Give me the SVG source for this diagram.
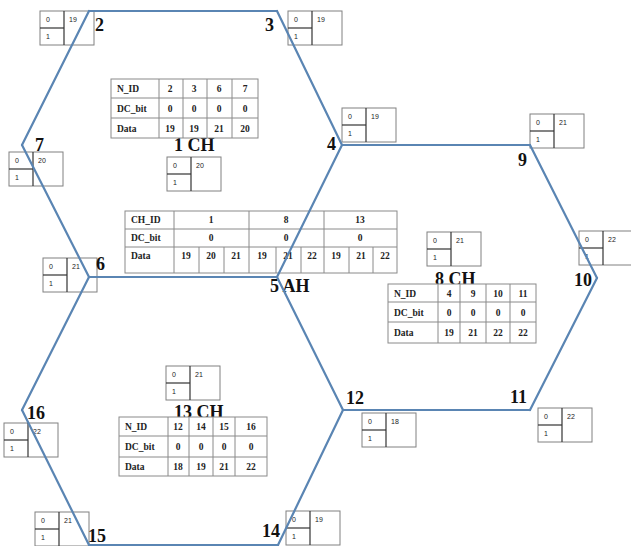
<svg xmlns="http://www.w3.org/2000/svg" xmlns:xlink="http://www.w3.org/1999/xlink" width="631" height="546" viewBox="0 0 631 546">
<style>
.edge{stroke:#5a85b3;stroke-width:2.2;fill:none;stroke-linecap:round}
.bo{fill:#fff;stroke:#808080;stroke-width:1}
.bi{stroke:#333;stroke-width:1.2}
.bt{font-family:"Liberation Sans",Arial,sans-serif;font-size:7px;fill:#222}
.lbl{font-family:"Liberation Serif","Times New Roman",serif;font-weight:bold;font-size:18px;fill:#111}
.tb{fill:#fff;stroke:#8a8a8a;stroke-width:1}
.tl{stroke:#8a8a8a;stroke-width:1}
.tt{font-family:"Liberation Serif","Times New Roman",serif;font-weight:bold;font-size:9.5px;fill:#222}
.tc{text-anchor:middle}
</style>
<defs>
<g id="box">
<rect class="bo" x="0" y="0" width="54" height="34"/>
<line class="bi" x1="24" y1="0" x2="24" y2="34"/>
<line class="bi" x1="0" y1="17" x2="24" y2="17"/>
<text class="bt" x="6" y="11">0</text>
<text class="bt" x="6" y="28">1</text>
</g>
</defs>
<rect width="631" height="546" fill="#fff"/>

<g id="node-2"><use xlink:href="#box" x="40" y="11"/><text class="bt" x="69" y="22">19</text><text class="lbl" x="95" y="31">2</text></g>
<g id="node-3"><use xlink:href="#box" x="288" y="11"/><text class="bt" x="317" y="22">19</text><text class="lbl" x="265" y="31">3</text></g>
<g id="node-4"><use xlink:href="#box" x="342" y="108"/><text class="bt" x="371" y="119">19</text><text class="lbl" x="327" y="150">4</text></g>
<g id="node-7"><use xlink:href="#box" x="9" y="152"/><text class="bt" x="38" y="163">20</text><text class="lbl" x="35" y="151">7</text></g>
<g id="node-6"><use xlink:href="#box" x="43" y="258"/><text class="bt" x="72" y="269">21</text><text class="lbl" x="96" y="270">6</text></g>
<g id="node-9"><use xlink:href="#box" x="530" y="114"/><text class="bt" x="559" y="125">21</text><text class="lbl" x="518" y="166">9</text></g>
<g id="node-10"><use xlink:href="#box" x="579" y="231"/><text class="bt" x="608" y="242">22</text><text class="lbl" x="574" y="286">10</text></g>
<g id="node-11"><use xlink:href="#box" x="538" y="408"/><text class="bt" x="567" y="419">22</text><text class="lbl" x="510" y="403">11</text></g>
<g id="node-12"><use xlink:href="#box" x="362" y="413"/><text class="bt" x="391" y="424">18</text><text class="lbl" x="346" y="404">12</text></g>
<g id="node-14"><use xlink:href="#box" x="286" y="511"/><text class="bt" x="315" y="522">19</text><text class="lbl" x="262" y="537">14</text></g>
<g id="node-15"><use xlink:href="#box" x="35" y="512"/><text class="bt" x="64" y="523">21</text><text class="lbl" x="88" y="542">15</text></g>
<g id="node-16"><use xlink:href="#box" x="4" y="423"/><text class="bt" x="33" y="434">22</text><text class="lbl" x="27" y="419">16</text></g>

<g id="node-1CH">
<use xlink:href="#box" x="167" y="157"/><text class="bt" x="196" y="168">20</text>
<text class="lbl" x="174" y="151">1 CH</text>
<rect class="tb" x="111" y="79" width="147" height="59"/>
<path class="tl" d="M111 98H258M111 118H258M159 79V138M183 79V138M207 79V138M232 79V138"/>
<text class="tt" x="117" y="92">N_ID</text><text class="tt" x="117" y="112">DC_bit</text><text class="tt" x="117" y="132">Data</text>
<text class="tt tc" x="170" y="92">2</text><text class="tt tc" x="194" y="92">3</text><text class="tt tc" x="219" y="92">6</text><text class="tt tc" x="245" y="92">7</text>
<text class="tt tc" x="170" y="112">0</text><text class="tt tc" x="194" y="112">0</text><text class="tt tc" x="219" y="112">0</text><text class="tt tc" x="245" y="112">0</text>
<text class="tt tc" x="170" y="132">19</text><text class="tt tc" x="194" y="132">19</text><text class="tt tc" x="219" y="132">21</text><text class="tt tc" x="245" y="132">20</text>
</g>

<g id="node-5AH">
<text class="lbl" x="270" y="292">5 AH</text>
<rect class="tb" x="125" y="211" width="272" height="62"/>
<path class="tl" d="M125 229H397M125 247H397M174 211V273M249 211V273M324 211V273M199 247V273M224 247V273M276 247V273M301 247V273M349 247V273M373 247V273"/>
<text class="tt" x="131" y="223">CH_ID</text><text class="tt" x="131" y="241">DC_bit</text><text class="tt" x="131" y="259">Data</text>
<text class="tt tc" x="211" y="223">1</text><text class="tt tc" x="286" y="223">8</text><text class="tt tc" x="360" y="223">13</text>
<text class="tt tc" x="211" y="241">0</text><text class="tt tc" x="286" y="241">0</text><text class="tt tc" x="360" y="241">0</text>
<text class="tt tc" x="186" y="259">19</text><text class="tt tc" x="211" y="259">20</text><text class="tt tc" x="236" y="259">21</text>
<text class="tt tc" x="262" y="259">19</text><text class="tt tc" x="288" y="259">21</text><text class="tt tc" x="312" y="259">22</text>
<text class="tt tc" x="336" y="259">19</text><text class="tt tc" x="361" y="259">21</text><text class="tt tc" x="385" y="259">22</text>
</g>

<g id="node-8CH">
<use xlink:href="#box" x="427" y="232"/><text class="bt" x="456" y="243">21</text>
<text class="lbl" x="435" y="285">8 CH</text>
<rect class="tb" x="388" y="284" width="148" height="59"/>
<path class="tl" d="M388 302H536M388 322H536M438 284V343M460 284V343M486 284V343M510 284V343"/>
<text class="tt" x="394" y="297">N_ID</text><text class="tt" x="394" y="316">DC_bit</text><text class="tt" x="394" y="336">Data</text>
<text class="tt tc" x="449" y="297">4</text><text class="tt tc" x="473" y="297">9</text><text class="tt tc" x="498" y="297">10</text><text class="tt tc" x="523" y="297">11</text>
<text class="tt tc" x="449" y="316">0</text><text class="tt tc" x="473" y="316">0</text><text class="tt tc" x="498" y="316">0</text><text class="tt tc" x="523" y="316">0</text>
<text class="tt tc" x="449" y="336">19</text><text class="tt tc" x="473" y="336">21</text><text class="tt tc" x="498" y="336">22</text><text class="tt tc" x="523" y="336">22</text>
</g>

<g id="node-13CH">
<use xlink:href="#box" x="166" y="366"/><text class="bt" x="195" y="377">21</text>
<text class="lbl" x="174" y="418">13 CH</text>
<rect class="tb" x="119" y="417" width="148" height="59"/>
<path class="tl" d="M119 436H267M119 457H267M168 417V476M189 417V476M213 417V476M235 417V476"/>
<text class="tt" x="125" y="430">N_ID</text><text class="tt" x="125" y="450">DC_bit</text><text class="tt" x="125" y="470">Data</text>
<text class="tt tc" x="178" y="430">12</text><text class="tt tc" x="201" y="430">14</text><text class="tt tc" x="224" y="430">15</text><text class="tt tc" x="251" y="430">16</text>
<text class="tt tc" x="178" y="450">0</text><text class="tt tc" x="201" y="450">0</text><text class="tt tc" x="224" y="450">0</text><text class="tt tc" x="251" y="450">0</text>
<text class="tt tc" x="178" y="470">18</text><text class="tt tc" x="201" y="470">19</text><text class="tt tc" x="224" y="470">21</text><text class="tt tc" x="251" y="470">22</text>
</g>

<g id="connectors">
<line class="edge" x1="89" y1="11" x2="277" y2="11"/>
<line class="edge" x1="277" y1="11" x2="342" y2="145"/>
<line class="edge" x1="342" y1="145" x2="277" y2="277"/>
<line class="edge" x1="277" y1="277" x2="89" y2="277"/>
<line class="edge" x1="89" y1="277" x2="22" y2="145"/>
<line class="edge" x1="22" y1="145" x2="89" y2="11"/>
<line class="edge" x1="342" y1="145" x2="530" y2="145"/>
<line class="edge" x1="530" y1="145" x2="597" y2="278"/>
<line class="edge" x1="597" y1="278" x2="530" y2="410"/>
<line class="edge" x1="530" y1="410" x2="343" y2="410"/>
<line class="edge" x1="343" y1="410" x2="277" y2="277"/>
<line class="edge" x1="343" y1="410" x2="278" y2="545"/>
<line class="edge" x1="278" y1="545" x2="89" y2="545"/>
<line class="edge" x1="89" y1="545" x2="22" y2="410"/>
<line class="edge" x1="22" y1="410" x2="89" y2="277"/>
</g>
</svg>
